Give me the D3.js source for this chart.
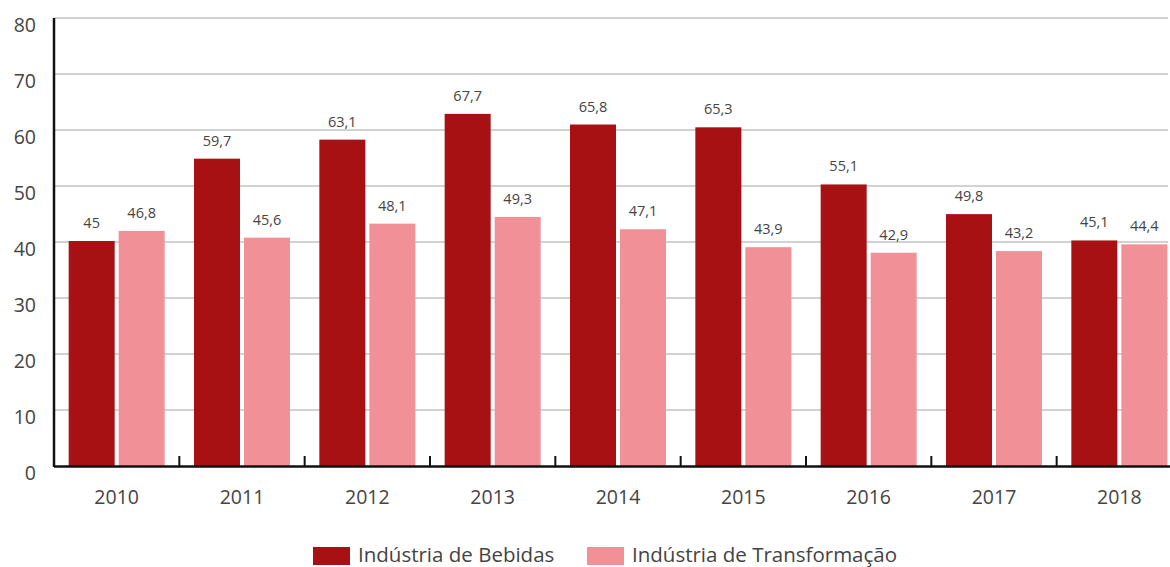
<!DOCTYPE html>
<html lang="pt">
<meta charset="utf-8">
<head>
	<title>Bebidas x Transformação</title>
	<script src="https://cdn.jsdelivr.net/npm/d3@7"></script>
</head>

<style type="text/css">
	body { margin: 0; background: white; }
	.tickLabel { font-family: 'Open Sans', sans-serif; font-size: 19.5px; fill: #444; }
	.valueLabel { font-family: 'Open Sans', sans-serif; font-size: 14.5px; fill: #444; }
	.legendText { font-family: 'Open Sans', sans-serif; font-size: 20.5px; fill: #444; }
	.grid { stroke: #d2d2d2; stroke-width: 2; }
</style>

<body>
<script type="text/javascript">

	var years = ["2010", "2011", "2012", "2013", "2014", "2015", "2016", "2017", "2018"];
	var bebidas = [45, 59.7, 63.1, 67.7, 65.8, 65.3, 55.1, 49.8, 45.1];
	var transformacao = [46.8, 45.6, 48.1, 49.3, 47.1, 43.9, 42.9, 43.2, 44.4];
	var seriesNames = ["Indústria de Bebidas", "Indústria de Transformação"];
	var yTicks = [0, 10, 20, 30, 40, 50, 60, 70, 80];

	var colours = ["#a81114", "#f19096"];

	var width = 1170, height = 567,
		plotLeft = 54, plotRight = 1182,
		plotTop = 18, plotBottom = 466,
		barW = 46, barGap = 4,
		barShift = 27; // bars in the source sit a bit low against the grid

	var svg = d3.select("body")
				.append("svg")
				.attr("width", width)
				.attr("height", height);

	var x = d3.scaleBand().domain(years).range([plotLeft, plotRight]);
	var y = d3.scaleLinear().domain([0, 80]).range([plotBottom, plotTop]);

	// grid lines + y labels
	svg.selectAll(".grid")
	   .data(yTicks.slice(1))
	   .enter().append("line")
	   .attr("class", "grid")
	   .attr("x1", plotLeft).attr("x2", 1168)
	   .attr("y1", function(d) { return y(d); })
	   .attr("y2", function(d) { return y(d); });

	svg.selectAll(".yLabel")
	   .data(yTicks)
	   .enter().append("text")
	   .attr("class", "tickLabel")
	   .attr("text-anchor", "end")
	   .attr("x", 36)
	   .attr("y", function(d) { return y(d) + 14; })
	   .text(function(d) { return d; });

	// bars
	var groups = [bebidas, transformacao];
	svg.append("clipPath").attr("id", "plotClip")
	   .append("rect").attr("x", plotLeft).attr("y", 0)
	   .attr("width", width - plotLeft).attr("height", plotBottom);

	groups.forEach(function(values, s) {
		var offset = (x.bandwidth() - (2 * barW + barGap)) / 2 + s * (barW + barGap);
		svg.append("g")
		   .attr("clip-path", "url(#plotClip)")
		   .selectAll("rect")
		   .data(values)
		   .enter().append("rect")
		   .attr("x", function(d, i) { return x(years[i]) + offset; })
		   .attr("y", function(d) { return y(d) + barShift; })
		   .attr("width", barW)
		   .attr("height", function(d) { return plotBottom - y(d); })
		   .attr("fill", colours[s]);

		svg.selectAll(".valueLabel" + s)
		   .data(values)
		   .enter().append("text")
		   .attr("class", "valueLabel")
		   .attr("text-anchor", "middle")
		   .attr("x", function(d, i) { return x(years[i]) + offset + barW / 2; })
		   .attr("y", function(d) { return y(d) + barShift - 13; })
		   .text(function(d) { return String(d).replace(".", ","); });
	});

	// axes lines
	svg.append("line")
	   .attr("x1", plotLeft).attr("x2", plotLeft)
	   .attr("y1", plotTop).attr("y2", plotBottom + 1)
	   .attr("stroke", "#111").attr("stroke-width", 2.5);

	svg.append("line")
	   .attr("x1", plotLeft).attr("x2", width)
	   .attr("y1", plotBottom + 0.5).attr("y2", plotBottom + 0.5)
	   .attr("stroke", "#111").attr("stroke-width", 2.5);

	svg.selectAll(".xTick")
	   .data(years.slice(1))
	   .enter().append("line")
	   .attr("x1", function(d) { return x(d); })
	   .attr("x2", function(d) { return x(d); })
	   .attr("y1", plotBottom - 10).attr("y2", plotBottom)
	   .attr("stroke", "#111").attr("stroke-width", 2);

	svg.selectAll(".xLabel")
	   .data(years)
	   .enter().append("text")
	   .attr("class", "tickLabel")
	   .attr("text-anchor", "middle")
	   .attr("x", function(d) { return x(d) + x.bandwidth() / 2; })
	   .attr("y", 504)
	   .text(function(d) { return d; });

	// legend
	var legendX = [313, 587];
	seriesNames.forEach(function(name, s) {
		svg.append("rect")
		   .attr("x", legendX[s]).attr("y", 547)
		   .attr("width", 37).attr("height", 18)
		   .attr("fill", colours[s]);
		svg.append("text")
		   .attr("class", "legendText")
		   .attr("x", legendX[s] + 45)
		   .attr("y", 562)
		   .text(name);
	});

</script>
</body>
</html>
